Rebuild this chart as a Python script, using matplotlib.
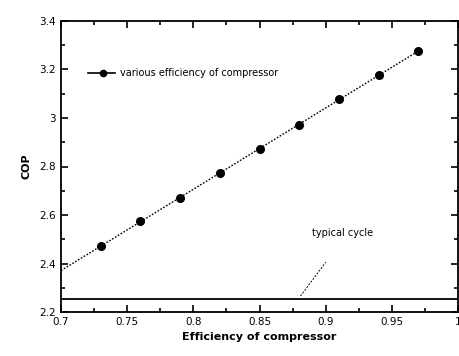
import numpy as np
import matplotlib.pyplot as plt
from matplotlib.ticker import MultipleLocator

# compressor efficiency and resulting COP
efficiency = [0.73, 0.76, 0.79, 0.82, 0.85, 0.88, 0.91, 0.94, 0.97]
cop = [2.472, 2.575, 2.670, 2.773, 2.872, 2.971, 3.078, 3.177, 3.276]
cop_typical = 2.254

fig = plt.figure(figsize=(4.6, 3.56), dpi=100)
ax = fig.add_axes([61/460, 1 - 312/356, (458-61)/460, (312-21)/356])

# linear fit, extended back to 0.7
k, b = np.polyfit(efficiency, cop, 1)
xf = np.array([0.7, efficiency[-1]])
ax.plot(xf, k*xf + b, color='k', linestyle=(0, (1.2, 1.2)), linewidth=1.0)
ax.plot(efficiency, cop, 'o', color='k', markersize=5.5)

# legend entry drawn by hand
ax.plot([0.7204, 0.7408], [3.186, 3.186], color='k', linewidth=1.2)
ax.plot([0.7317], [3.186], 'o', color='k', markersize=5.5, markeredgecolor='white', markeredgewidth=0)
ax.text(0.7446, 3.186, 'various efficiency of compressor', fontsize=7, va='center')

ax.axhline(cop_typical, color='k', linewidth=1.3)
ax.text(0.913, 2.526, 'typical cycle', fontsize=7, ha='center', va='center')
ax.plot([0.881, 0.900], [2.266, 2.405], color='k', linestyle=(0, (2, 1.5)), linewidth=0.7)

ax.set_xlim(0.7, 1.0)
ax.set_ylim(2.2, 3.4)
ax.xaxis.set_minor_locator(MultipleLocator(0.025))
ax.yaxis.set_minor_locator(MultipleLocator(0.1))
ax.set_xticks([0.7, 0.75, 0.8, 0.85, 0.9, 0.95, 1.0])
ax.set_xticklabels(['0.7', '0.75', '0.8', '0.85', '0.9', '0.95', '1'])
ax.set_yticks([2.2, 2.4, 2.6, 2.8, 3.0, 3.2, 3.4])
ax.set_yticklabels(['2.2', '2.4', '2.6', '2.8', '3', '3.2', '3.4'])
ax.tick_params(which='both', direction='in', top=True, right=True, labelsize=7.5, width=1.2)
ax.tick_params(which='major', length=5)
ax.tick_params(which='minor', length=3)
for s in ax.spines.values():
    s.set_linewidth(1.3)

ax.set_xlabel('Efficiency of compressor', fontsize=8, fontweight='bold', labelpad=4)
ax.set_ylabel('COP', fontsize=8, fontweight='bold', labelpad=6)

fig.savefig('out.png', dpi=100)
